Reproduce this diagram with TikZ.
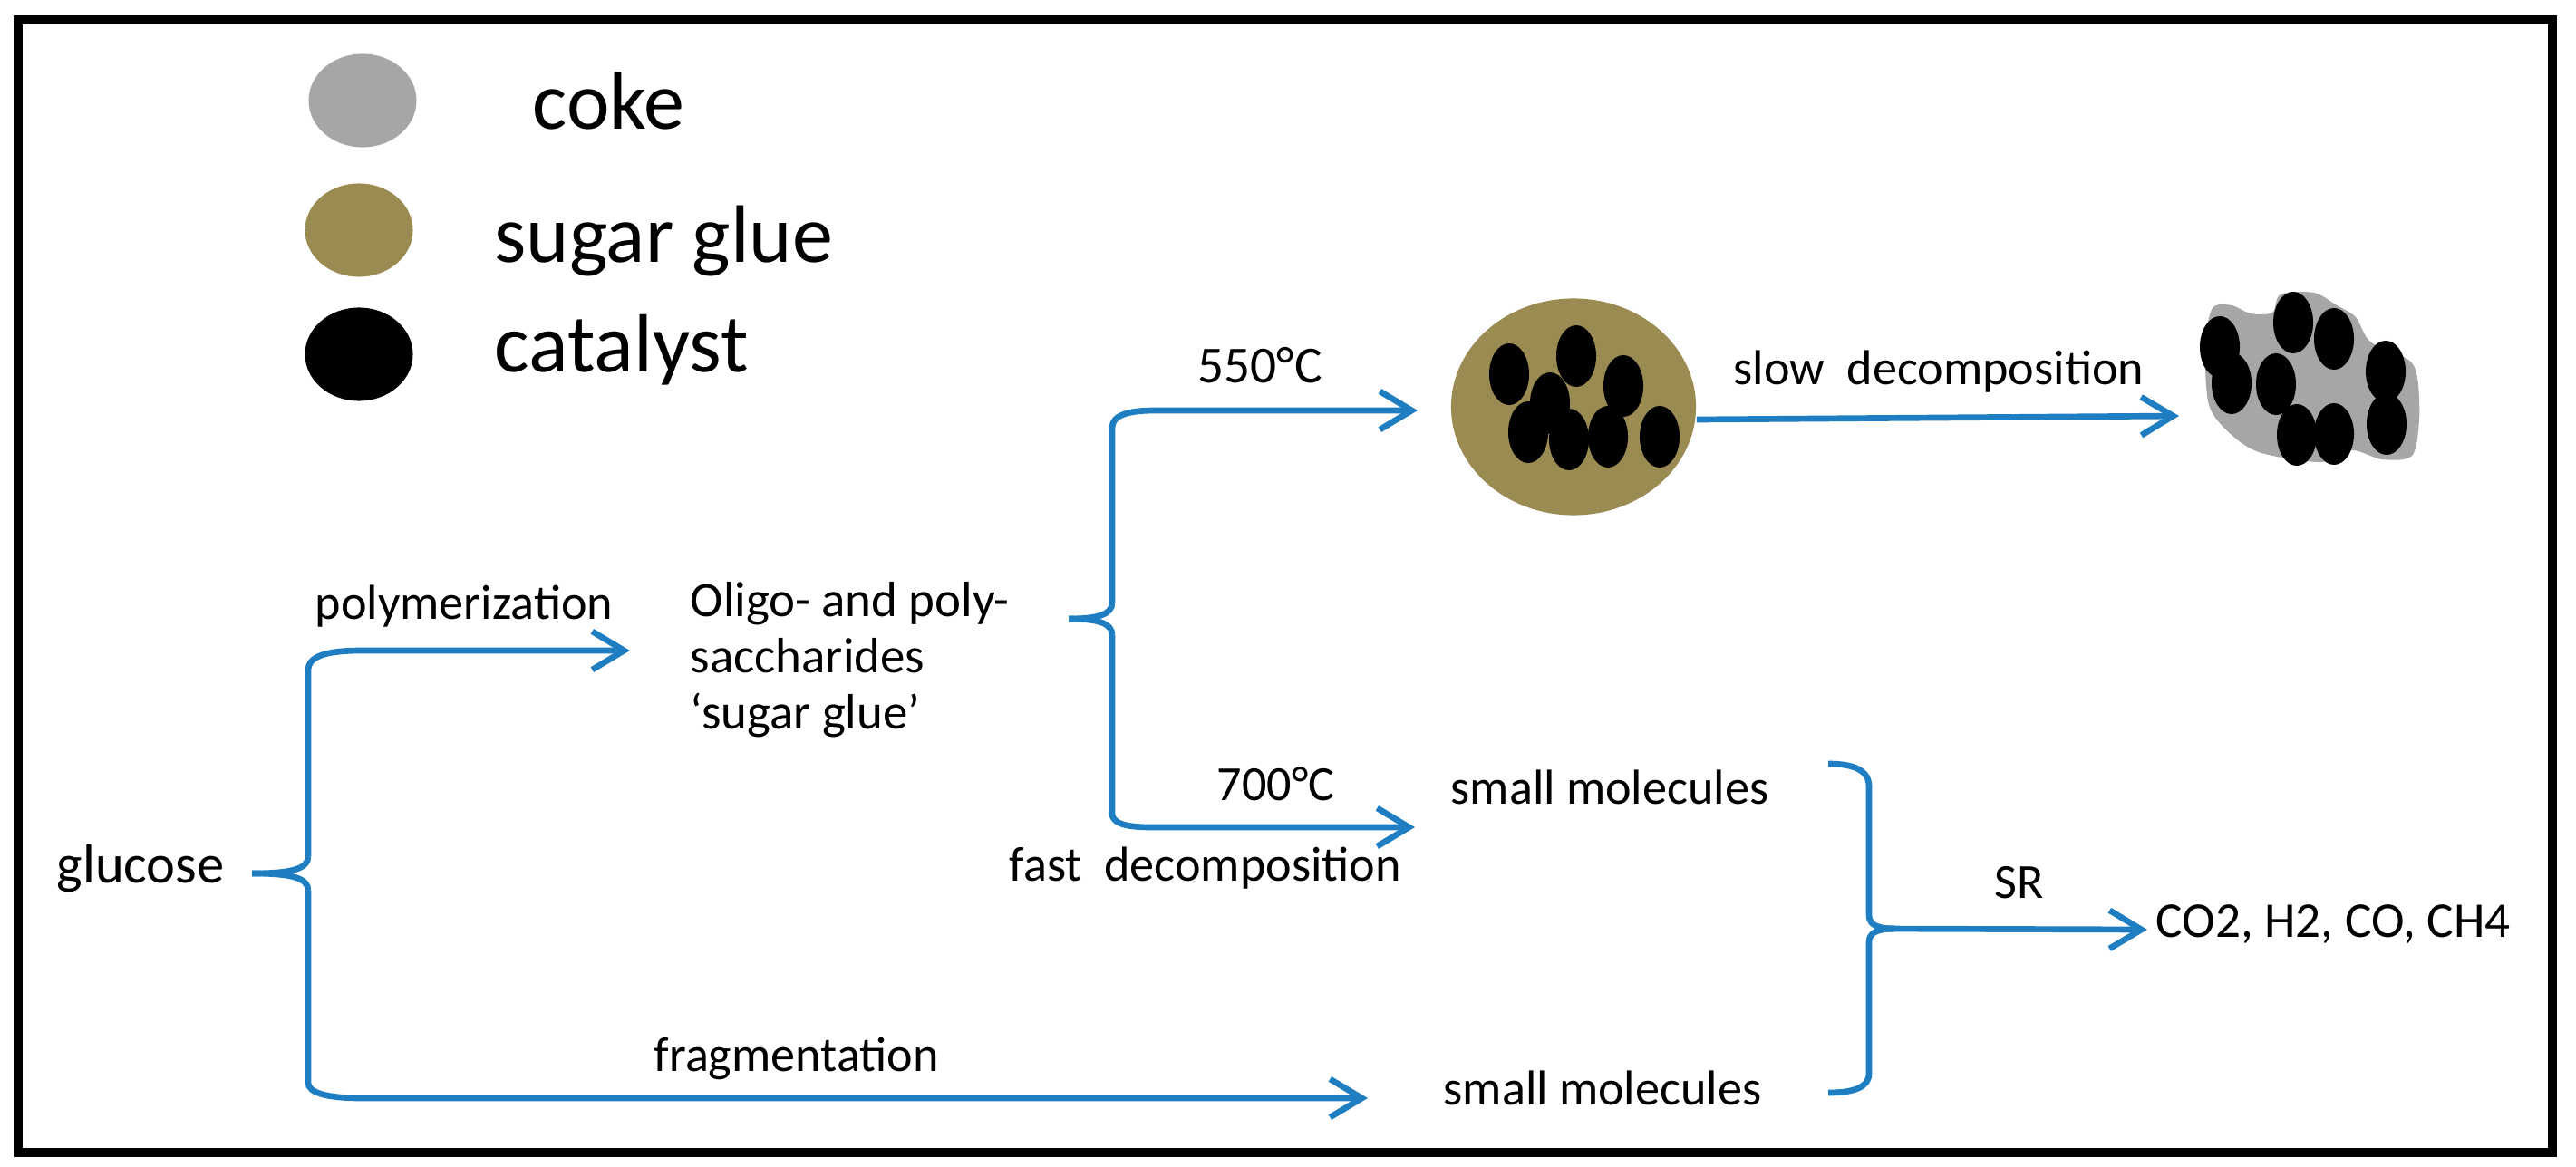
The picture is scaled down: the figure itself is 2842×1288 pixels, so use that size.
\documentclass[tikz,border=0pt]{standalone}
\usepackage{fontspec}
\setmainfont{Carlito}
\usepackage{tikz}
\usetikzlibrary{arrows.meta}
\usetikzlibrary{shapes.geometric}
\definecolor{flowblue}{HTML}{1F7EC2}
\definecolor{glueolive}{HTML}{9A8B52}
\definecolor{cokegray}{HTML}{A6A6A6}
\tikzset{
  flow/.style={draw=flowblue, line width=1.9pt},
  flowarrow/.style={flow, -{Straight Barb[length=10pt,width=12pt,line width=1.9pt]}},
  catalyst/.style={ellipse, fill=black, inner sep=0pt, minimum width=0.44cm, minimum height=0.68cm},
  legenddot/.style={ellipse, inner sep=0pt, minimum width=1.19cm, minimum height=1.03cm},
  smalltext/.style={anchor=base west, inner sep=0pt, font=\fontsize{15.4}{18.5}\selectfont},
  bigtext/.style={anchor=base west, inner sep=0pt, font=\fontsize{25.6}{28}\selectfont},
}

\begin{document}
\begin{tikzpicture}[x=0.01cm, y=-0.01cm]
  \useasboundingbox (0,0) rectangle (2842,1288);

  % Frame
  \draw[line width=2.6pt] (20,22) rectangle (2816,1272);

  % Legend
  \node[legenddot, fill=cokegray] (cokedot) at (400,111) {};
  \node[legenddot, fill=glueolive] (gluedot) at (396,254) {};
  \node[legenddot, fill=black] (catdot) at (396,391) {};
  \node[bigtext] (coke) at (587,143) {coke};
  \node[bigtext] (sugarglue) at (545,289) {sugar glue};
  \node[bigtext, font=\fontsize{25.9}{28}\selectfont] (catalyst) at (545,410) {catalyst};

  % Particles
  \node[ellipse, fill=glueolive, inner sep=0pt, minimum width=2.70cm, minimum height=2.39cm] (glue) at (1736,449) {};
  \foreach \cx/\cy [count=\i] in {1665/413,1739/393,1791/426,1710/445,1686/477,1731/485,1774/482,1831/482} {
    \node[catalyst] (gluecat\i) at (\cx,\cy) {};
  }
  \fill[cokegray] plot[smooth cycle, tension=0.5] coordinates {
    (2441,340) (2462,337) (2483,346) (2507,345) (2516,325) (2553,323) (2578,337)
    (2599,350) (2615,377) (2657,397) (2667,417) (2669,463) (2661,503) (2628,507)
    (2595,497) (2561,510) (2495,500) (2462,480) (2437,447) (2433,380)};
  \foreach \cx/\cy [count=\i] in {2449/383,2462/423,2530/356,2575/374,2511/424,2632/410,2633/468,2534/480,2575/479} {
    \node[catalyst] (cokecat\i) at (\cx,\cy) {};
  }

  % Labels
  \node[smalltext, font=\fontsize{17.2}{20}\selectfont] (glucose) at (62,974) {glucose};
  \node[smalltext] (polymer) at (347,683) {polymerization};
  \node[smalltext] (fragment) at (721,1182) {fragmentation};
  \node[smalltext, anchor=north west, align=left, font=\fontsize{15.6}{17.6}\selectfont] (oligo) at (761,642) {Oligo- and poly-\\saccharides\\‘sugar glue’};
  \node[smalltext, font=\fontsize{16.3}{20}\selectfont] (hot) at (1321,422) {550°C};
  \node[smalltext] (hotter) at (1342,883) {700°C};
  \node[smalltext] (fast) at (1113,972) {fast\ \ decomposition};
  \node[smalltext] (slow) at (1912,424) {slow\ \ decomposition};
  \node[smalltext] (smallA) at (1600,887) {small molecules};
  \node[smalltext] (smallB) at (1592,1219) {small molecules};
  \node[smalltext] (sr) at (2200,991) {SR};
  \node[smalltext, font=\fontsize{15.7}{20}\selectfont] (gases) at (2378,1034) {CO2, H2, CO, CH4};

  % Points of the forks
  \coordinate (gluIn) at (278,964);
  \coordinate (gluTop) at (695,718);
  \coordinate (gluBot) at (1509,1212);
  \coordinate (oliIn) at (1179,683);
  \coordinate (oliTop) at (1564,453);
  \coordinate (oliBot) at (1561,913);
  \coordinate (slowEnd) at (2404,459);
  \coordinate (molTop) at (2017,843);
  \coordinate (molBot) at (2017,1206);
  \coordinate (molOut) at (2369,1026);

  % Fork after glucose
  \draw[flow] (gluIn) .. controls (325,964) and (340,958) .. (340,945);
  \draw[flow] (gluIn) .. controls (325,964) and (340,970) .. (340,983);
  \draw[flowarrow] (340,945) -- (340,740) .. controls (340,724) and (360,718) .. (400,718) -- (gluTop);
  \draw[flowarrow] (340,983) -- (340,1195) .. controls (340,1206) and (360,1212) .. (400,1212) -- (gluBot);

  % Fork after the saccharides
  \draw[flow] (oliIn) .. controls (1212,683) and (1227,678) .. (1227,665);
  \draw[flow] (oliIn) .. controls (1212,683) and (1227,688) .. (1227,701);
  \draw[flowarrow] (1227,665) -- (1227,472) .. controls (1227,458) and (1245,453) .. (1275,453) -- (oliTop);
  \draw[flowarrow] (1227,701) -- (1227,898) .. controls (1227,908) and (1240,913) .. (1270,913) -- (oliBot);

  % Slow route
  \draw[flowarrow] ([yshift=-0.14cm]glue.east) -- (slowEnd);

  % Fork into the gases
  \draw[flow] (molTop) .. controls (2045,843) and (2062,850) .. (2062,868) -- (2062,1010) .. controls (2062,1020) and (2070,1025) .. (2090,1025);
  \draw[flow] (molBot) .. controls (2045,1206) and (2062,1200) .. (2062,1185) -- (2062,1040) .. controls (2062,1030) and (2070,1025) .. (2090,1025);
  \draw[flowarrow] (2072,1025) -- (molOut);

\end{tikzpicture}
\end{document}
